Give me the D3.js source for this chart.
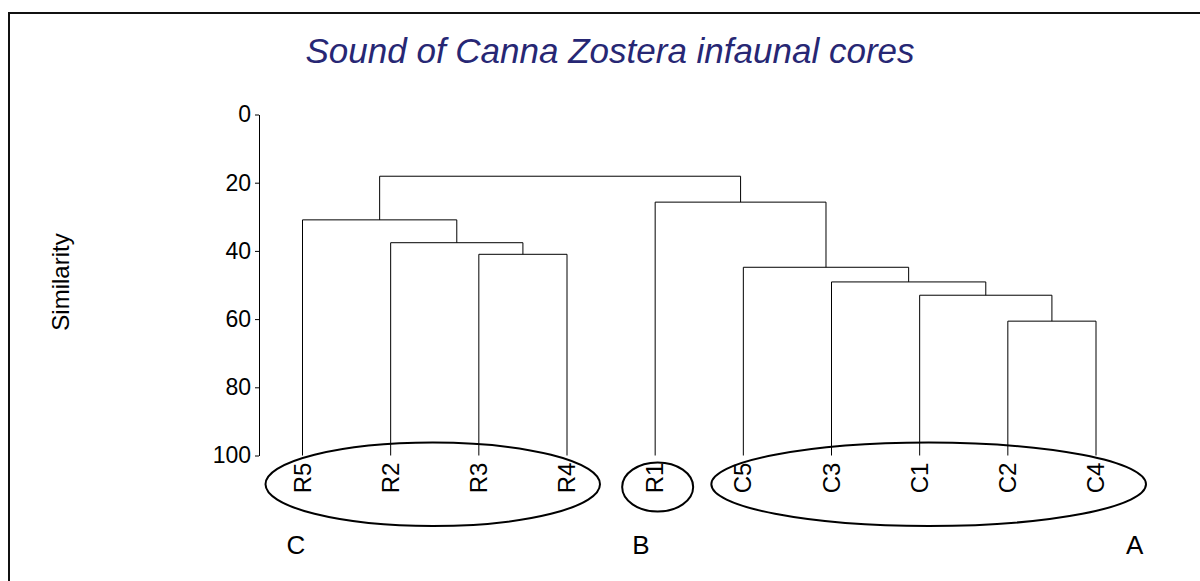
<!DOCTYPE html>
<head>
    <meta charset="utf-8">
    <title>Sound of Canna Zostera infaunal cores</title>
    <script src="https://d3js.org/d3.v7.min.js"></script>
</head>

<body>
<svg id="chart" width="1200" height="581"></svg>
</body>

<script>

    // leaf order along the bottom
    var leaves = ["R5", "R2", "R3", "R4", "R1", "C5", "C3", "C1", "C2", "C4"]

    // each merge joins mergeLeft + mergeRight at a similarity level (m0, m1... name earlier merges)
    var mergeLeft   = ["R3", "R2", "R5", "C2", "C1", "C3", "C5", "R1", "m2"]
    var mergeRight  = ["R4", "m0", "m1", "C4", "m3", "m4", "m5", "m6", "m7"]
    var mergeHeight = [41.0, 37.6, 30.9, 60.6, 53.0, 49.1, 44.8, 25.7, 18.1]

    // circled groups
    var groupNames = ["C", "B", "A"]
    var groupFirst = ["R5", "R1", "C5"]
    var groupLast  = ["R4", "R1", "C4"]

    var yTicks = [0, 20, 40, 60, 80, 100]

    var width = 1200,
        height = 581;

    var svg = d3.select("#chart")

    svg.append("rect")
        .attr("width", width).attr("height", height)
        .attr("fill", "white")

    // frame
    svg.append("rect")
        .attr("x", 9).attr("y", 13)
        .attr("width", 1400).attr("height", 800)
        .attr("fill", "none")
        .attr("stroke", "#111")
        .attr("stroke-width", 2)

    svg.append("text")
        .attr("x", 610).attr("y", 63)
        .attr("text-anchor", "middle")
        .style("font-family", "Arial, 'Liberation Sans', sans-serif")
        .style("font-size", "35px")
        .style("font-style", "italic")
        .attr("fill", "#272774")
        .text("Sound of Canna Zostera infaunal cores")

    var x = d3.scalePoint().domain(leaves).range([302.5, 1096])
    var y = d3.scaleLinear().domain([0, 100]).range([114.5, 455.5])

    // axis
    var axis = svg.append("g")
        .attr("transform", "translate(259,0)")
        .call(d3.axisLeft(y).tickValues(yTicks).tickSize(4).tickSizeOuter(0).tickPadding(4))
    axis.selectAll("text")
        .style("font-family", "Arial, 'Liberation Sans', sans-serif")
        .style("font-size", "23px")
        .attr("fill", "#000")
    axis.selectAll("line, path").attr("stroke", "#000")

    svg.append("text")
        .attr("transform", "translate(69,282) rotate(-90)")
        .attr("text-anchor", "middle")
        .style("font-family", "Arial, 'Liberation Sans', sans-serif")
        .style("font-size", "24px")
        .text("Similarity")

    // positions of nodes
    var nodeX = {}, nodeH = {}
    leaves.forEach(function(l) {
        nodeX[l] = x(l)
        nodeH[l] = 100
    })
    for (var i = 0; i < mergeLeft.length; i++) {
        var a = mergeLeft[i], b = mergeRight[i]
        nodeX["m" + i] = (nodeX[a] + nodeX[b]) / 2
        nodeH["m" + i] = mergeHeight[i]
    }

    var links = mergeLeft.map(function(a, i) {
        return {a: a, b: mergeRight[i], h: mergeHeight[i]}
    })

    svg.selectAll(".link")
        .data(links)
        .enter().append("path")
        .attr("class", "link")
        .attr("fill", "none")
        .attr("stroke", "#000")
        .attr("stroke-width", 1)
        .attr("d", function(d) {
            return "M" + nodeX[d.a] + "," + y(nodeH[d.a]) +
                "V" + y(d.h) +
                "H" + nodeX[d.b] +
                "V" + y(nodeH[d.b])
        })

    svg.selectAll(".leaf")
        .data(leaves)
        .enter().append("text")
        .attr("class", "leaf")
        .attr("transform", function(d) {
            return "translate(" + (x(d) + 8) + ",478) rotate(-90)"
        })
        .attr("text-anchor", "middle")
        .style("font-family", "Arial, 'Liberation Sans', sans-serif")
        .style("font-size", "24px")
        .text(function(d) { return d })

    // ellipses round the groups
    var padL = [37, 33, 32],
        padR = [33, 38, 50],
        radY = [41.7, 24.5, 41.7],
        cyG  = [484.3, 487, 484.3]

    groupNames.forEach(function(g, i) {
        var left = x(groupFirst[i]) - padL[i],
            right = x(groupLast[i]) + padR[i]
        svg.append("ellipse")
            .attr("cx", (left + right) / 2)
            .attr("cy", cyG[i])
            .attr("rx", (right - left) / 2)
            .attr("ry", radY[i])
            .attr("fill", "none")
            .attr("stroke", "#000")
            .attr("stroke-width", 2)
    })

    // group letters
    var letterX = [x("R5") - 16, x("R1") - 23, x("C4") + 30]
    groupNames.forEach(function(g, i) {
        svg.append("text")
            .attr("x", letterX[i]).attr("y", 554)
            .style("font-family", "Arial, 'Liberation Sans', sans-serif")
            .style("font-size", "26px")
            .text(g)
    })

</script>

<style>
    html, body {
        margin: 0;
        overflow: hidden;
    }
    svg {
        display: block;
    }
</style>

</html>
